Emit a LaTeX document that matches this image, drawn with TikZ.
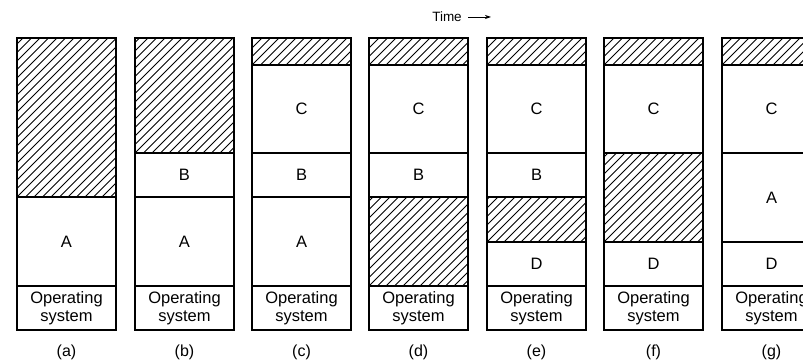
\documentclass[tikz,border=0pt]{standalone}
\usepackage{fontspec}
\setmainfont{Liberation Sans}
\usetikzlibrary{arrows.meta}
\newcommand\mseg[6]{\node[#5, minimum height={(#4-#3)*1pt}] (#1) at ({#2+49.5},{(#3+#4)/2}) {#6};}
\begin{document}
\begin{tikzpicture}[x=1pt,y=-1pt,
  seg/.style={draw, line width=1.1pt, minimum width=99pt, inner sep=0pt, outer sep=0pt,
    font=\fontsize{16.5}{18.5}\selectfont, align=center},
  hatch/.style={seg, path picture={
      \foreach \i in {-20,...,12}
        \draw[line width=0.85pt] (path picture bounding box.south west) ++({(\i*8.5-170)*1pt+170pt},0pt) -- ++(200pt,200pt);}},
  caplabel/.style={font=\fontsize{16}{18}\selectfont}]
\useasboundingbox (0,0) rectangle (803,363);
\clip (0,0) rectangle (803,363);
% (a)
\mseg{a1}{17}{38}{197}{hatch}{}
\mseg{a2}{17}{197}{286}{seg}{A}
\mseg{a3}{17}{286}{330}{seg}{Operating\\system}
% (b)
\mseg{b1}{135}{38}{153}{hatch}{}
\mseg{b2}{135}{153}{197}{seg}{B}
\mseg{b3}{135}{197}{286}{seg}{A}
\mseg{b4}{135}{286}{330}{seg}{Operating\\system}
% (c)
\mseg{c1}{252}{38}{65}{hatch}{}
\mseg{c2}{252}{65}{153}{seg}{C}
\mseg{c3}{252}{153}{197}{seg}{B}
\mseg{c4}{252}{197}{286}{seg}{A}
\mseg{c5}{252}{286}{330}{seg}{Operating\\system}
% (d)
\mseg{d1}{369}{38}{65}{hatch}{}
\mseg{d2}{369}{65}{153}{seg}{C}
\mseg{d3}{369}{153}{197}{seg}{B}
\mseg{d4}{369}{197}{286}{hatch}{}
\mseg{d5}{369}{286}{330}{seg}{Operating\\system}
% (e)
\mseg{e1}{487}{38}{65}{hatch}{}
\mseg{e2}{487}{65}{153}{seg}{C}
\mseg{e3}{487}{153}{197}{seg}{B}
\mseg{e4}{487}{197}{242}{hatch}{}
\mseg{e5}{487}{242}{286}{seg}{D}
\mseg{e6}{487}{286}{330}{seg}{Operating\\system}
% (f)
\mseg{f1}{604}{38}{65}{hatch}{}
\mseg{f2}{604}{65}{153}{seg}{C}
\mseg{f3}{604}{153}{242}{hatch}{}
\mseg{f4}{604}{242}{286}{seg}{D}
\mseg{f5}{604}{286}{330}{seg}{Operating\\system}
% (g)
\mseg{g1}{722}{38}{65}{hatch}{}
\mseg{g2}{722}{65}{153}{seg}{C}
\mseg{g3}{722}{153}{242}{seg}{A}
\mseg{g4}{722}{242}{286}{seg}{D}
\mseg{g5}{722}{286}{330}{seg}{Operating\\system}
% labels
\node[caplabel] (la) at (66.5,352) {(a)};
\node[caplabel] (lb) at (184.5,352) {(b)};
\node[caplabel] (lc) at (301.5,352) {(c)};
\node[caplabel] (ld) at (418.5,352) {(d)};
\node[caplabel] (le) at (536.5,352) {(e)};
\node[caplabel] (lf) at (653.5,352) {(f)};
\node[caplabel] (lg) at (771.5,352) {(g)};
% time
\node[font=\fontsize{13.5}{15}\selectfont, inner sep=0pt] (time) at (447,17) {Time};
\coordinate (ts) at (468,17);
\coordinate (te) at (491,17);
\draw[line width=0.7pt, -{Stealth[length=6pt,width=4pt]}] (ts) -- (te);
\end{tikzpicture}
\end{document}
